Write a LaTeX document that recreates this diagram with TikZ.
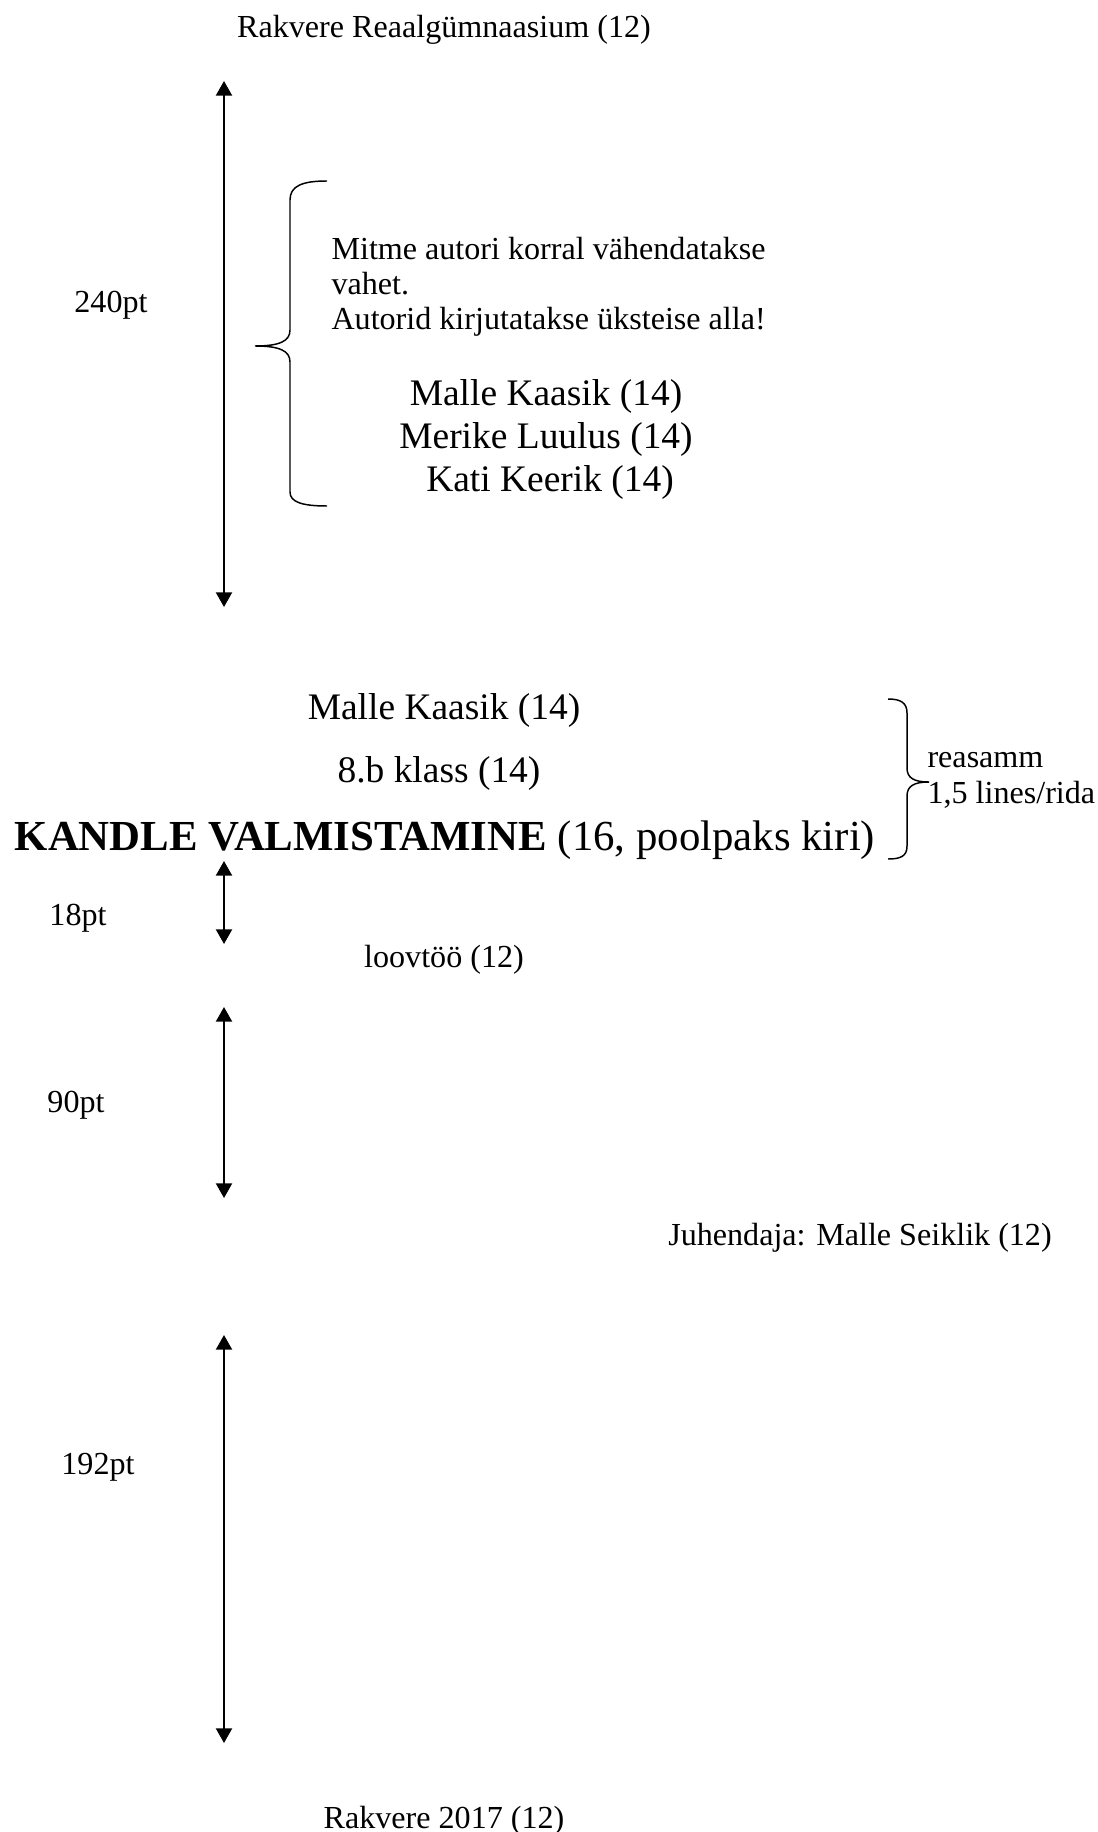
\documentclass[tikz,border=0pt]{standalone}
\usepackage{fontspec}
\setmainfont{Liberation Serif}
\usetikzlibrary{arrows.meta}
\begin{document}
\begin{tikzpicture}[x=0.3738pt,y=-0.3738pt,
  txt/.style={inner sep=0pt, text height=0.7em, text depth=0.2em, yshift=-1.9pt},
  f12/.style={txt,font=\fontsize{12}{14}\selectfont},
  f14/.style={txt,font=\fontsize{14}{16}\selectfont},
  f16/.style={txt,font=\fontsize{16}{19}\selectfont},
  dim/.style={line width=0.8pt, {Triangle[width=6pt,length=5.5pt]}-{Triangle[width=6pt,length=5.5pt]}},
  bracestyle/.style={line width=0.55pt}]
\useasboundingbox (0,0) rectangle (1097,1832);

% top school name
\node[f12] (school) at (444,26) {Rakvere Reaalgümnaasium (12)};

% dimension arrows
\coordinate (a1t) at (224,81);  \coordinate (a1b) at (224,607);
\draw[dim] (a1t) -- (a1b);
\node[f12] (d240) at (111,301) {240pt};

\coordinate (a2t) at (224,861); \coordinate (a2b) at (224,944);
\draw[dim] (a2t) -- (a2b);
\node[f12] (d18) at (78,914) {18pt};

\coordinate (a3t) at (224,1007); \coordinate (a3b) at (224,1198);
\draw[dim] (a3t) -- (a3b);
\node[f12] (d90) at (76,1101) {90pt};

\coordinate (a4t) at (224,1335); \coordinate (a4b) at (224,1743);
\draw[dim] (a4t) -- (a4b);
\node[f12] (d192) at (98,1463) {192pt};

% left brace
\draw[bracestyle] (327,181) .. controls (302,181) and (290,186) .. (290,200)
  -- (290,330) .. controls (290,341) and (280,346) .. (255,346)
  .. controls (280,346) and (290,351) .. (290,362)
  -- (290,492) .. controls (290,502) and (302,506) .. (327,506);

\node[f12,anchor=west] (note1) at (331,248) {Mitme autori korral vähendatakse};
\node[f12,anchor=west] (note2) at (331,283) {vahet.};
\node[f12,anchor=west] (note3) at (331,318) {Autorid kirjutatakse üksteise alla!};

\node[f14] (auth1) at (546,394) {Malle Kaasik (14)};
\node[f14] (auth2) at (546,437) {Merike Luulus (14)};
\node[f14] (auth3) at (550,480) {Kati Keerik (14)};

% title block
\node[f14] (author) at (444,708) {Malle Kaasik (14)};
\node[f14] (klass) at (439,771) {8.b klass (14)};
\node[f16] (title) at (445,839) {\textbf{KANDLE VALMISTAMINE} (16, poolpaks kiri)};

% right brace
\draw[bracestyle] (888,699) .. controls (901,699) and (907,703) .. (907,713)
  -- (907,768) .. controls (907,778) and (914,782) .. (929,782)
  .. controls (914,782) and (907,786) .. (907,796)
  -- (907,846) .. controls (907,856) and (901,859) .. (888,859);
\node[f12,anchor=west] (rs1) at (927,756) {reasamm};
\node[f12,anchor=west] (rs2) at (927,792) {1,5 lines/rida};

\node[f12] (loov) at (444,956) {loovtöö (12)};
\node[f12] (juh) at (860,1234) {Juhendaja: Malle Seiklik (12)};
\node[f12] (place) at (444,1817) {Rakvere 2017 (12)};
\end{tikzpicture}
\end{document}
